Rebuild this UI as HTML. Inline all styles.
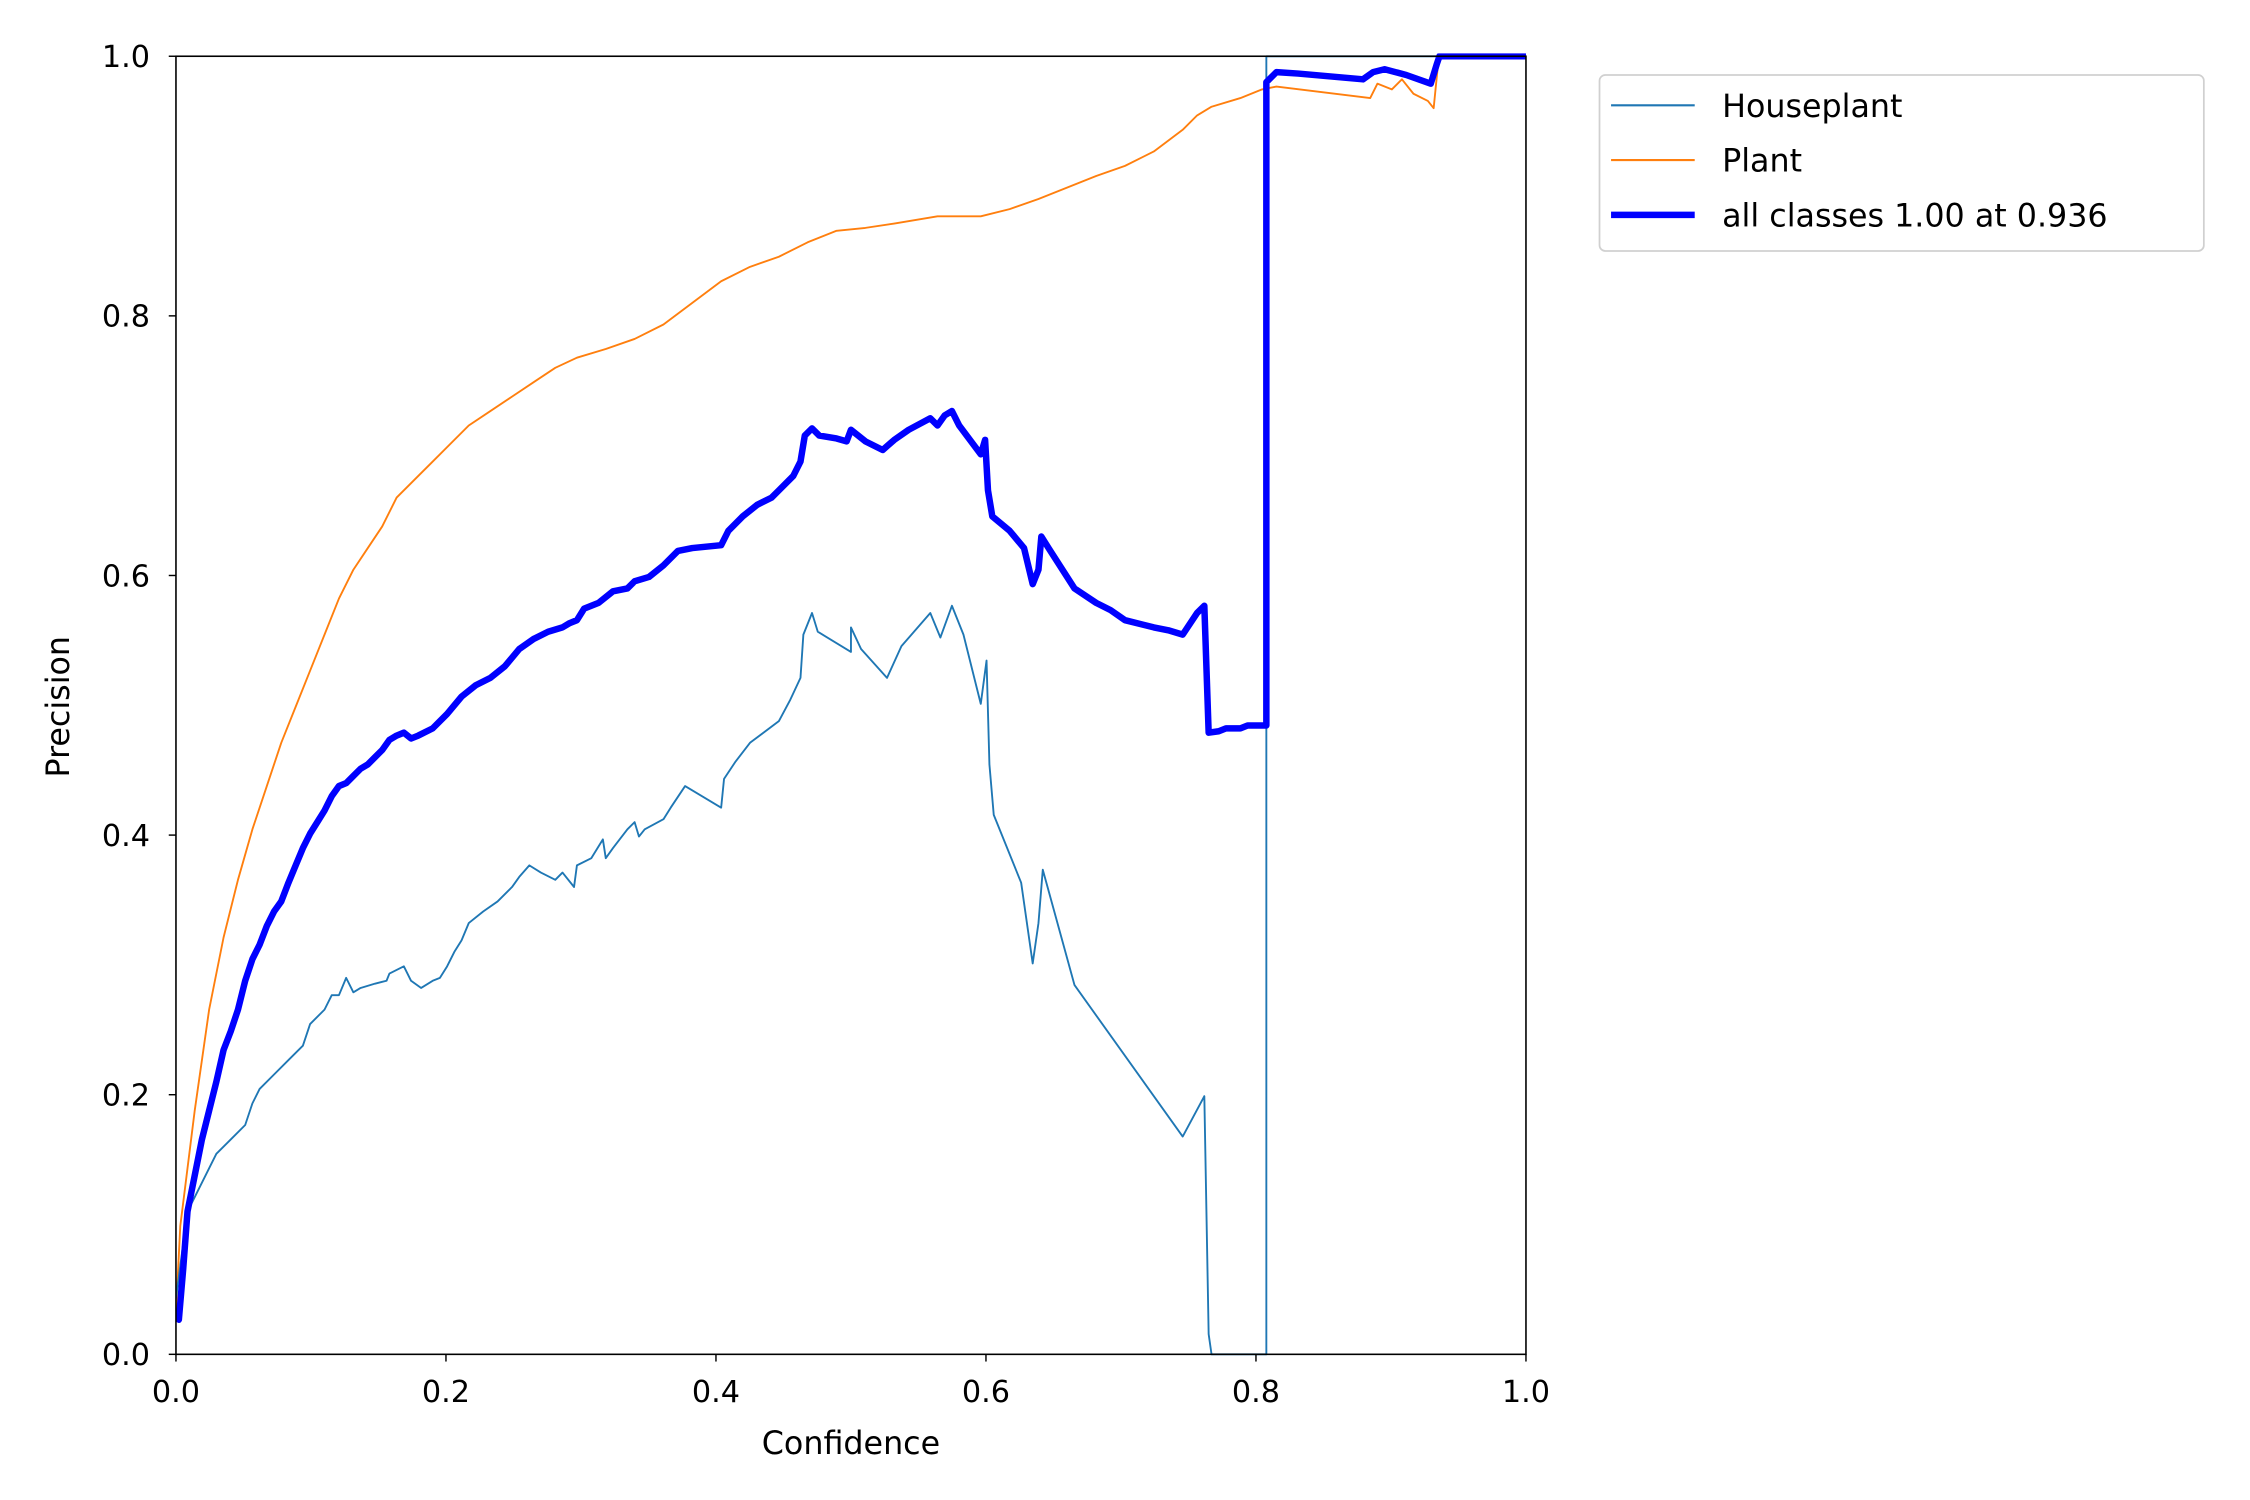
<!DOCTYPE html>
<html><head><style>html,body{margin:0;padding:0;background:#fff}svg{display:block}</style></head>
<body>
<svg width="2250" height="1500" viewBox="0 0 1560 1040" xmlns="http://www.w3.org/2000/svg" font-family="DejaVu Sans, Liberation Sans, sans-serif">
<rect width="1560" height="1040" fill="#fff"/>
<defs><clipPath id="c"><rect x="122" y="37" width="936" height="904"/></clipPath></defs>
<g clip-path="url(#c)" fill="none" stroke-linejoin="round" stroke-linecap="round">
<polyline stroke="#ff7f0e" stroke-width="1.3" points="122,910 125,850 135,770 145,700 155,650 165,610 175,575 185,545 195,515 205,490 215,465 225,440 235,415 245,395 255,380 265,365 275,345 290,330 300,320 310,310 325,295 340,285 355,275 370,265 385,255 400,248 420,242 440,235 460,225 480,210 500,195 520,185 540,178 560,168 580,160 600,158 620,155 650,150 680,150 700,145 720,138 740,130 760,122 780,115 800,105 820,90 830,80 840,74 860,68 875,62 885,60 950,68 955,58 965,62 972,55 980,65 990,70 994,75 997,45 1000,39 1058,39"/>
<polyline stroke="#1f77b4" stroke-width="1.3" points="122,900 130,840 140,820 150,800 160,790 170,780 175,765 180,755 190,745 200,735 210,725 215,710 225,700 230,690 235,690 240,678 245,688 250,685 260,682 268,680 270,675 280,670 285,680 292,685 300,680 305,678 310,670 315,660 320,652 325,640 335,632 345,625 355,615 360,608 367,600 375,605 385,610 390,605 398,615 400,600 410,595 418,582 420,595 425,588 435,575 440,570 443,580 447,575 460,568 465,560 475,545 500,560 502,540 510,528 520,515 540,500 548,485 555,470 557,440 563,425 567,438 590,452 590,435 597,450 615,470 625,448 645,425 652,442 660,420 668,440 680,488 684,458 686,530 689,565 708,612 716,668 720,640 723,603 745,683 820,788 835,760 838,925 840,939 878,939 878,39 1058,39"/>
<polyline stroke="#0000ff" stroke-width="4.5" points="124,915 127,880 130,840 135,815 140,790 145,770 150,750 155,728 160,715 165,700 170,680 175,665 180,655 185,642 190,632 195,625 200,612 205,600 210,588 215,578 220,570 225,562 230,552 235,545 240,543 245,538 250,533 255,530 260,525 265,520 270,513 275,510 280,508 285,512 290,510 300,505 310,495 320,483 330,475 340,470 350,462 360,450 370,443 380,438 390,435 395,432 400,430 405,422 415,418 425,410 435,408 440,403 450,400 460,392 470,382 480,380 500,378 505,368 515,358 525,350 535,345 540,340 550,330 555,320 558,302 563,297 568,302 580,304 587,306 590,298 600,306 612,312 620,305 630,298 645,290 650,295 655,288 660,285 665,295 680,315 683,305 685,340 688,358 700,368 710,380 716,405 720,395 722,372 727,380 745,408 760,418 770,423 780,430 800,435 810,437 820,440 830,425 835,420 838,508 845,507 850,505 860,505 865,503 878,503 878,57 885,50 900,51 945,55 952,50 960,48 975,52 992,58 996,45 998,39 1058,39"/>
</g>
<rect x="122" y="39" width="936" height="900" fill="none" stroke="#000" stroke-width="1.1"/>
<g stroke="#000" stroke-width="1">
<line x1="122" y1="939" x2="122" y2="944"/><line x1="309.2" y1="939" x2="309.2" y2="944"/><line x1="496.4" y1="939" x2="496.4" y2="944"/><line x1="683.6" y1="939" x2="683.6" y2="944"/><line x1="870.8" y1="939" x2="870.8" y2="944"/><line x1="1058" y1="939" x2="1058" y2="944"/>
<line x1="117" y1="939" x2="122" y2="939"/><line x1="117" y1="759" x2="122" y2="759"/><line x1="117" y1="579" x2="122" y2="579"/><line x1="117" y1="399" x2="122" y2="399"/><line x1="117" y1="219" x2="122" y2="219"/><line x1="117" y1="39" x2="122" y2="39"/>
</g>
<g font-size="21" fill="#000" text-anchor="middle">
<text x="122" y="972">0.0</text><text x="309.2" y="972">0.2</text><text x="496.4" y="972">0.4</text><text x="683.6" y="972">0.6</text><text x="870.8" y="972">0.8</text><text x="1058" y="972">1.0</text>
</g>
<g font-size="21" fill="#000" text-anchor="end">
<text x="104" y="946.5">0.0</text><text x="104" y="766.5">0.2</text><text x="104" y="586.5">0.4</text><text x="104" y="406.5">0.6</text><text x="104" y="226.5">0.8</text><text x="104" y="46.5">1.0</text>
</g>
<g font-size="22" fill="#000" text-anchor="middle">
<text x="590" y="1008">Confidence</text>
<text transform="translate(48,490) rotate(-90)">Precision</text>
</g>
<rect x="1109" y="52" width="419" height="122" rx="4" fill="#fff" stroke="#d0d0d0" stroke-width="1.2"/>
<line x1="1117" y1="73" x2="1175" y2="73" stroke="#1f77b4" stroke-width="1.5"/>
<line x1="1117" y1="111" x2="1175" y2="111" stroke="#ff7f0e" stroke-width="1.5"/>
<line x1="1117" y1="149" x2="1175" y2="149" stroke="#0000ff" stroke-width="4.5"/>
<g font-size="22" fill="#000">
<text x="1194" y="81">Houseplant</text>
<text x="1194" y="119">Plant</text>
<text x="1194" y="157">all classes 1.00 at 0.936</text>
</g>
</svg>
</body></html>
